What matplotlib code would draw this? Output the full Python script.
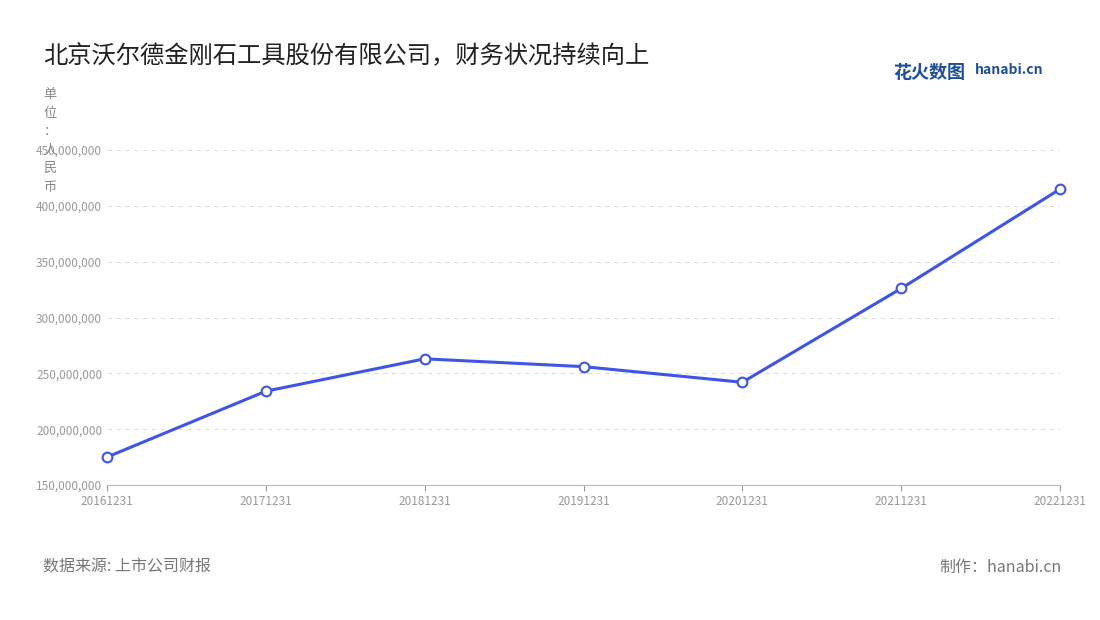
import matplotlib.pyplot as plt
from matplotlib.ticker import FuncFormatter

plt.rcParams['font.family'] = ['Noto Sans CJK SC', 'DejaVu Sans']

years = ['20161231', '20171231', '20181231', '20191231', '20201231', '20211231', '20221231']
revenue = [175e6, 234e6, 263e6, 256e6, 242e6, 326e6, 415e6]

fig = plt.figure(figsize=(11, 6.2), dpi=100)
ax = fig.add_axes([107/1100, 1-485/620, (1060-107)/1100, (485-150)/620])

x = range(len(years))
ax.plot(x, revenue, '-', color='#3d55e8', lw=2.2, marker='o', ms=7,
        mfc='white', mec='#3d55e8', mew=1.5, zorder=3, clip_on=False)
ax.set_xlim(0, len(years)-1)
ax.set_ylim(150e6, 450e6)
ax.set_yticks([150e6 + i*50e6 for i in range(7)])
ax.yaxis.set_major_formatter(FuncFormatter(lambda v, p: f'{int(v):,}'))
ax.set_xticks(list(x))
ax.set_xticklabels(years)
ax.tick_params(colors='#999999', labelsize=8.5, length=4)
ax.tick_params(axis='y', length=0)
ax.grid(axis='y', ls=(0, (4, 4)), color='#dddddd', lw=0.8)
for s in ['top', 'right', 'left']:
    ax.spines[s].set_visible(False)
ax.spines['bottom'].set_color('#bbbbbb')

fig.text(43/1100, 1-55/620, '北京沃尔德金刚石工具股份有限公司，财务状况持续向上',
         fontsize=17.5, color='#222222', va='center')
fig.text(50/1100, 1-88/620, '单\n位\n：\n人\n民\n币', fontsize=9.5, color='#888888',
         va='top', ha='center', linespacing=1.55)
fig.text(893/1100, 1-72/620, '花火数图', fontsize=13, color='#1f4e9a', va='center', weight='bold')
fig.text(975/1100, 1-70/620, 'hanabi.cn', fontsize=10, color='#1f4e9a', va='center', weight='bold')
fig.text(43/1100, 1-567/620, '数据来源: 上市公司财报', fontsize=11.5, color='#777777', va='center')
fig.text(1062/1100, 1-567/620, '制作：hanabi.cn', fontsize=11.5, color='#777777', va='center', ha='right')

fig.savefig('out.png', dpi=100)
